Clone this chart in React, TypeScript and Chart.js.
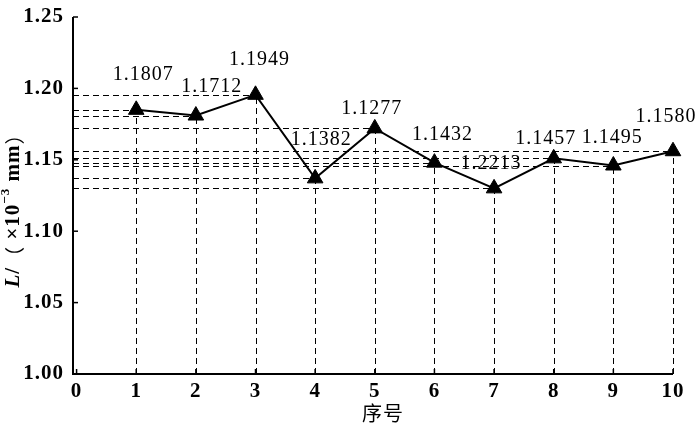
import React, { useEffect, useRef } from 'react';
import { Chart, registerables } from 'chart.js';

Chart.register(...registerables);

// ---- data ----
const sampleNo = [1, 2, 3, 4, 5, 6, 7, 8, 9, 10];
const lValues = [1.185, 1.181, 1.1955, 1.137, 1.172, 1.148, 1.13, 1.151, 1.146, 1.156];
const pointLabels = ['1.1807', '1.1712', '1.1949', '1.1382', '1.1277', '1.1432', '1.2213', '1.1457', '1.1495', '1.1580'];
const xTickValues = [0, 1, 2, 3, 4, 5, 6, 7, 8, 9, 10];
const yTickValues = [1.0, 1.05, 1.1, 1.15, 1.2, 1.25];
const xTitle = '序号';

// label nudges (px) relative to each marker
const labelNudges: [number, number][] = [
  [7, -35], [16, -29], [4, -35], [6, -39], [-3, -20],
  [8, -28], [-3, -25], [-8, -20], [-1, -28], [-7, -34],
];

const SERIF = "'Liberation Serif', 'Times New Roman', serif";

const decorPlugin = {
  id: 'decor',
  beforeDraw(chart: any) {
    (chart.ctx as any).letterSpacing = '1px';
  },
  beforeDatasetsDraw(chart: any) {
    const { ctx, chartArea, scales } = chart;
    const xs = scales.x;
    const ys = scales.y;
    ctx.save();
    ctx.strokeStyle = '#000';
    ctx.lineWidth = 1;
    ctx.setLineDash([6, 4]);
    sampleNo.forEach((n, i) => {
      const px = Math.round(xs.getPixelForValue(n)) + 0.5;
      const py = Math.round(ys.getPixelForValue(lValues[i])) + 0.5;
      ctx.beginPath();
      ctx.moveTo(chartArea.left, py);
      ctx.lineTo(px, py);
      ctx.stroke();
      ctx.beginPath();
      ctx.moveTo(px, chartArea.bottom);
      ctx.lineTo(px, py);
      ctx.stroke();
    });
    ctx.setLineDash([]);
    // axes
    ctx.lineWidth = 2;
    ctx.beginPath();
    ctx.moveTo(chartArea.left, chartArea.top);
    ctx.lineTo(chartArea.left, chartArea.bottom);
    ctx.lineTo(chartArea.right, chartArea.bottom);
    ctx.stroke();
    // inward ticks
    ctx.lineWidth = 1.5;
    yTickValues.forEach((v) => {
      const py = ys.getPixelForValue(v);
      ctx.beginPath();
      ctx.moveTo(chartArea.left, py);
      ctx.lineTo(chartArea.left + 5, py);
      ctx.stroke();
    });
    xTickValues.forEach((v) => {
      const px = xs.getPixelForValue(v);
      ctx.beginPath();
      ctx.moveTo(px, chartArea.bottom);
      ctx.lineTo(px, chartArea.bottom - 5);
      ctx.stroke();
    });
    ctx.restore();
  },
  afterDatasetsDraw(chart: any) {
    const { ctx, chartArea, scales } = chart;
    const xs = scales.x;
    const ys = scales.y;
    ctx.save();
    ctx.fillStyle = '#000';
    // point labels
    ctx.font = `20px ${SERIF}`;
    ctx.textAlign = 'center';
    ctx.textBaseline = 'middle';
    sampleNo.forEach((n, i) => {
      const px = xs.getPixelForValue(n) + labelNudges[i][0];
      const py = ys.getPixelForValue(lValues[i]) + labelNudges[i][1];
      ctx.fillText(pointLabels[i], px, py);
    });
    // x title
    ctx.font = "20px 'Noto Sans CJK SC', sans-serif";
    ctx.fillText(xTitle, (chartArea.left + chartArea.right) / 2 + 10, 413);
    // y title (rotated, with italic L and superscript)
    const segs = [
      { t: 'L', f: `italic bold 21px ${SERIF}`, dy: 0 },
      { t: '/', f: `bold 21px ${SERIF}`, dy: 0 },
      { t: '（', f: "20px 'Noto Sans CJK SC', sans-serif", dy: 0 },
      { t: ' ×10', f: `bold 21px ${SERIF}`, dy: 0 },
      { t: '−3', f: `bold 13px ${SERIF}`, dy: -8 },
      { t: ' mm', f: `bold 21px ${SERIF}`, dy: 0 },
      { t: '）', f: "20px 'Noto Sans CJK SC', sans-serif", dy: 0 },
    ];
    let total = 0;
    const widths = segs.map((s) => {
      ctx.font = s.f;
      const w = ctx.measureText(s.t).width;
      total += w;
      return w;
    });
    const cy = (chartArea.top + chartArea.bottom) / 2 + 10;
    ctx.translate(14, cy);
    ctx.rotate(-Math.PI / 2);
    ctx.textAlign = 'left';
    ctx.textBaseline = 'middle';
    let x = -total / 2;
    segs.forEach((s, i) => {
      ctx.font = s.f;
      ctx.fillText(s.t, x, s.dy);
      x += widths[i];
    });
    ctx.restore();
  },
};

export default function App() {
  const ref = useRef<HTMLCanvasElement | null>(null);
  useEffect(() => {
    if (!ref.current) return;
    const chart = new Chart(ref.current, {
      type: 'line',
      data: {
        datasets: [
          {
            data: sampleNo.map((n, i) => ({ x: n, y: lValues[i] })),
            borderColor: '#000',
            borderWidth: 2,
            pointStyle: 'triangle',
            pointRadius: 9,
            pointBackgroundColor: '#000',
            pointBorderColor: '#000',
            pointBorderWidth: 1,
            tension: 0,
            clip: false as any,
          },
        ],
      },
      options: {
        responsive: false,
        animation: false,
        layout: { padding: { top: 17, right: 27, left: 0, bottom: 0 } },
        plugins: { legend: { display: false }, tooltip: { enabled: false }, title: { display: false } },
        scales: {
          x: {
            type: 'linear',
            min: -0.06,
            max: 10,
            grid: { display: false },
            border: { display: false },
            afterBuildTicks: (s: any) => {
              s.ticks = xTickValues.map((v) => ({ value: v }));
            },
            afterFit: (s: any) => {
              s.height = 54;
            },
            ticks: {
              color: '#000',
              font: { family: SERIF, size: 21, weight: 'bold' },
              padding: -3,
              maxRotation: 0,
              autoSkip: false,
              callback: (v: any) => String(v),
            },
          },
          y: {
            type: 'linear',
            min: 1.0,
            max: 1.25,
            grid: { display: false },
            border: { display: false },
            afterBuildTicks: (s: any) => {
              s.ticks = yTickValues.map((v) => ({ value: v }));
            },
            afterFit: (s: any) => {
              s.width = 73;
            },
            ticks: {
              color: '#000',
              font: { family: SERIF, size: 21, weight: 'bold' },
              padding: 1,
              autoSkip: false,
              callback: (v: any) => Number(v).toFixed(2),
            },
          },
        },
      },
      plugins: [decorPlugin],
    });
    return () => chart.destroy();
  }, []);
  return (
    <div style={{ position: 'fixed', left: 0, top: 0, width: 700, height: 428, background: '#fff' }}>
      <canvas ref={ref} width={700} height={428} style={{ width: 700, height: 428 }} />
    </div>
  );
}
